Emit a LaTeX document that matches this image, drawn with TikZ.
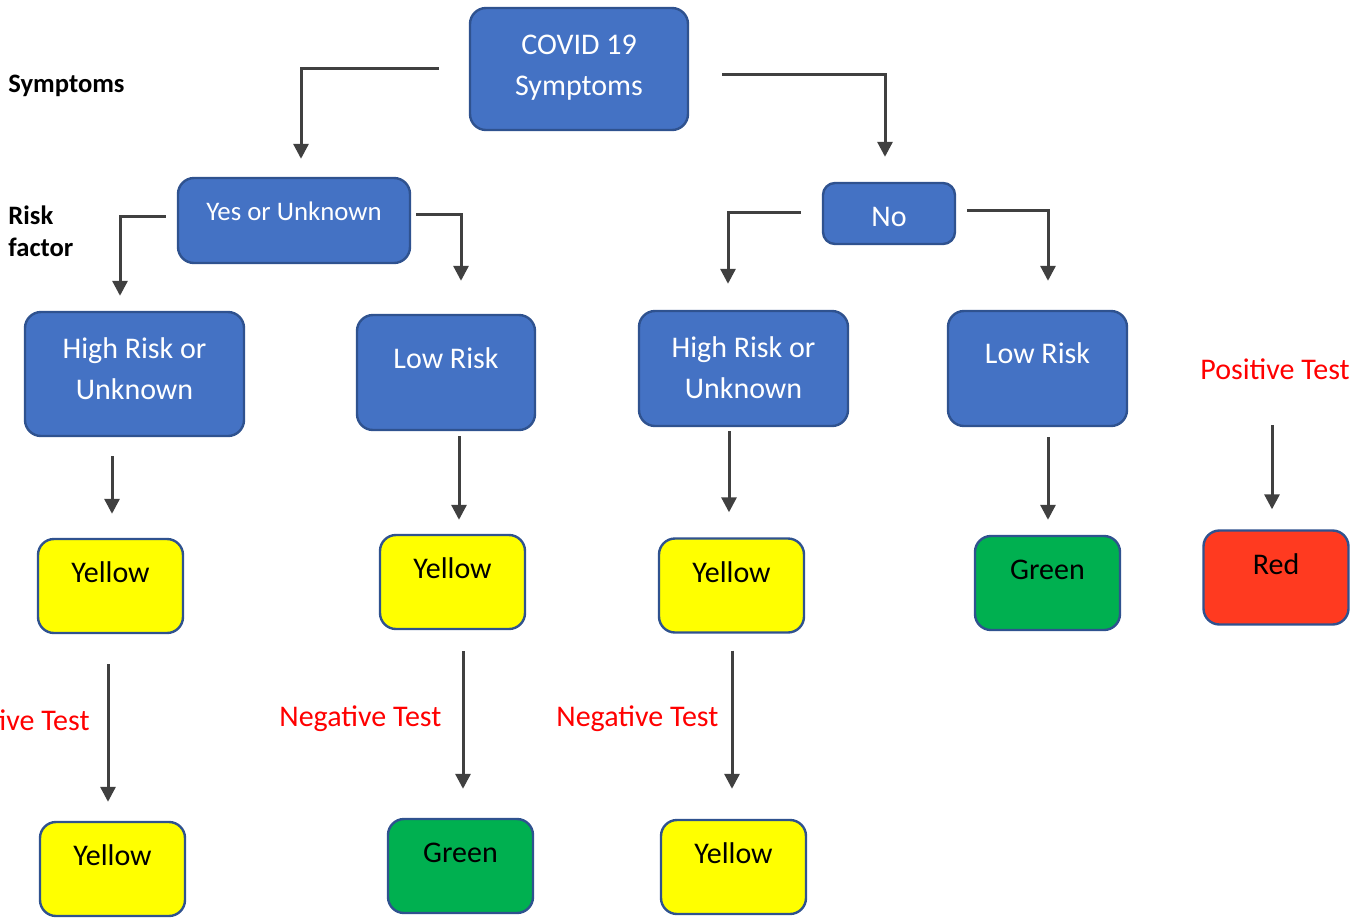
\documentclass[tikz,border=0pt]{standalone}
\usepackage{fontspec}
\setmainfont{Carlito}
\definecolor{boxblue}{RGB}{68, 114, 196}
\definecolor{edgeblue}{RGB}{47, 82, 143}
\definecolor{flagyellow}{RGB}{255, 255, 0}
\definecolor{flaggreen}{RGB}{0, 176, 80}
\definecolor{flagred}{RGB}{255, 58, 32}
\definecolor{arrowgrey}{RGB}{64, 64, 64}
\definecolor{testred}{RGB}{255, 0, 0}
\usetikzlibrary{shapes, arrows.meta, positioning, calc}

\begin{document}
\begin{tikzpicture}[x=0.5pt, y=-0.5pt,
  box/.style={draw=edgeblue, line width=1.2pt, rounded corners=8pt, inner sep=0pt, font=\fontsize{15}{20.5}\selectfont},
  bluebox/.style={box, fill=boxblue, text=white},
  lift/.style={text height=10pt, text depth=#1},
  twoline/.style={align=center, text height=#1, text depth=4pt},
  flag/.style={box, fill=#1, minimum width=72.5pt, minimum height=47pt, lift=13.5pt},
  flow/.style={draw=arrowgrey, line width=1.5pt, -{Triangle[width=7.5pt, length=7.5pt]}},
  side/.style={inner sep=0pt, font=\fontsize{13.3}{16}\selectfont\bfseries},
  testlabel/.style={inner sep=0pt, text=testred, font=\fontsize{15}{17}\selectfont}]
  \useasboundingbox (0,0) rectangle (1362,918);
  \clip (0,0) rectangle (1362,918);

  \node[side, anchor=west] (symlabel) at (8,86) {Symptoms};
  \node[side, anchor=north west, align=left] (risklabel) at (8,205) {Risk\\factor};

  \node[bluebox, twoline=30pt, minimum width=109pt, minimum height=61pt] (covid) at (579,69) {COVID 19\\Symptoms};
  \node[bluebox, minimum width=116pt, minimum height=42.5pt, font=\fontsize{13.4}{16}\selectfont, lift=10pt] (yes) at (294,220.5) {Yes or Unknown};
  \node[bluebox, minimum width=66pt, minimum height=30.5pt, rounded corners=6pt, text height=13pt, text depth=0pt] (no) at (889,213.5) {No};

  \node[bluebox, twoline=29pt, minimum width=109.5pt, minimum height=62pt] (hrl) at (134.5,374) {High Risk or\\Unknown};
  \node[bluebox, minimum width=89pt, minimum height=57.5pt, lift=14.5pt] (lrl) at (446,372.5) {Low Risk};
  \node[bluebox, twoline=33.5pt, minimum width=104.5pt, minimum height=57.5pt] (hrr) at (743.5,368.5) {High Risk or\\Unknown};
  \node[bluebox, minimum width=89.5pt, minimum height=57.5pt, lift=15.5pt] (lrr) at (1037.5,368.5) {Low Risk};

  \node[flag=flagyellow] (y1) at (110.5,586) {Yellow};
  \node[flag=flagyellow] (y2) at (452.5,582) {Yellow};
  \node[flag=flagyellow] (y3) at (731.5,585.5) {Yellow};
  \node[flag=flaggreen] (g1) at (1047.5,583) {Green};
  \node[flag=flagred] (red) at (1276,577.5) {Red};
  \node[flag=flagyellow] (y4) at (112.5,869) {Yellow};
  \node[flag=flaggreen] (g2) at (460.5,866) {Green};
  \node[flag=flagyellow] (y5) at (733.5,867) {Yellow};

  \node[testlabel, anchor=base east] (pos1) at (90,730) {Positive Test};
  \node[testlabel, anchor=base west] (neg1) at (279,726) {Negative Test};
  \node[testlabel, anchor=base west] (neg2) at (556,726) {Negative Test};
  \node[testlabel, anchor=base west] (pos2) at (1200,379) {Positive Test};

  \draw[flow] ($(covid.west)+(-30,-1)$) -| ($(yes.north)+(7,-18)$);
  \draw[flow] ($(covid.east)+(33,5)$) -| ($(no.north)+(-4,-25)$);
  \draw[flow] ($(yes.west)+(-11,-4.5)$) -| ($(hrl.north)+(-14.5,-15)$);
  \draw[flow] ($(yes.east)+(5,-6.5)$) -| ($(lrl.north)+(15,-33)$);
  \draw[flow] ($(no.west)+(-21,-1.5)$) -| ($(hrr.north)+(-15.5,-26)$);
  \draw[flow] ($(no.east)+(11,-3.5)$) -| ($(lrr.north)+(10.5,-29)$);

  \draw[flow] ($(hrl.south)+(-22.5,19)$) -- ($(y1.north)+(1.5,-24)$);
  \draw[flow] ($(lrl.south)+(13,5)$) -- ($(y2.north)+(6.5,-14)$);
  \draw[flow] ($(hrr.south)+(-14.5,4)$) -- ($(y3.north)+(-2.5,-25)$);
  \draw[flow] ($(lrr.south)+(10.5,10)$) -- ($(g1.north)+(0.5,-15)$);
  \draw[flow] ($(red.north)+(-4,-104)$) -- ($(red.north)+(-4,-20)$);

  \draw[flow] ($(y1.south)+(-2.5,30)$) -- ($(y4.north)+(-4.5,-19)$);
  \draw[flow] ($(y2.south)+(10.5,21)$) -- ($(g2.north)+(2.5,-29)$);
  \draw[flow] ($(y3.south)+(0.5,17)$) -- ($(y5.north)+(-1.5,-30)$);
\end{tikzpicture}
\end{document}
